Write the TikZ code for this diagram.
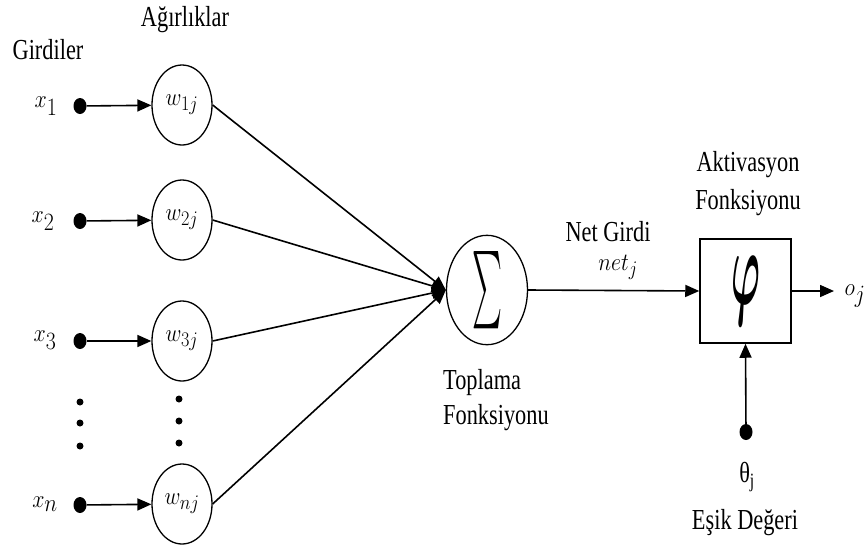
\documentclass[tikz,border=0pt]{standalone}
\usepackage{fontspec}
\setmainfont{Liberation Serif}
\usetikzlibrary{shapes.geometric,arrows.meta}
\newcommand\sq[1]{\scalebox{0.77}[1]{#1}}
\newcommand\mq[1]{\scalebox{0.88}[1]{#1}}
\begin{document}
\begin{tikzpicture}[x=1pt,y=-1pt,
  lbl/.style={inner sep=0pt, font=\fontsize{29}{34}\selectfont},
  mlbl/.style={inner sep=0pt, font=\fontsize{33}{38}\selectfont},
  wlbl/.style={inner sep=0pt, font=\fontsize{29}{34}\selectfont},
  wnode/.style={ellipse, draw, line width=1.3pt, minimum width=60pt, minimum height=80pt, inner sep=0pt, font=\fontsize{29}{34}\selectfont},
  dotin/.style={ellipse, fill, minimum width=13pt, minimum height=16pt, inner sep=0pt},
  sdot/.style={circle, fill, minimum size=7pt, inner sep=0pt},
  conn/.style={line width=1.6pt, -{Triangle[length=14pt,width=12pt]}},
]
\useasboundingbox (0,0) rectangle (868,544);

% titles
\node[lbl] (girdiler) at (48,50) {\sq{Girdiler}};
\node[lbl] (agirlik) at (185,20) {\sq{Ağırlıklar}};

% inputs
\node[mlbl] (lx1) at (46,106) {\mq{$x_1$}};
\node[mlbl] (lx2) at (43,221) {\mq{$x_2$}};
\node[mlbl] (lx3) at (45,340) {\mq{$x_3$}};
\node[mlbl] (lxn) at (45,504) {\mq{$x_n$}};

\node[dotin] (d1) at (80,106) {};
\node[dotin] (d2) at (80,221) {};
\node[dotin] (d3) at (80,341) {};
\node[dotin] (dn) at (80,505) {};

% weights
\node[wnode] (w1) at (182,105) {\mq{$w_{1j}$}};
\node[wnode] (w2) at (182,220) {\mq{$w_{2j}$}};
\node[wnode] (w3) at (182,341) {\mq{$w_{3j}$}};
\node[wnode] (wn) at (182,504) {\mq{$w_{nj}$}};

% vertical ellipses
\node[sdot] (va1) at (80,402) {};
\node[sdot] (va2) at (80,423) {};
\node[sdot] (va3) at (80,446) {};
\node[sdot] (vb1) at (179,399) {};
\node[sdot] (vb2) at (179,421) {};
\node[sdot] (vb3) at (179,443) {};

\draw[conn] (d1) -- (w1);
\draw[conn] (d2) -- (w2);
\draw[conn] (d3) -- (w3);
\draw[conn] (dn) -- (wn);

% summation
\node[ellipse, draw, line width=1.3pt, minimum width=81pt, minimum height=103pt, inner sep=0pt] (sum) at (487,290) {\resizebox{30pt}{58pt}{$\sum$}};

\draw[conn] (w1.east) -- (sum.west);
\draw[conn] (w2.east) -- (sum.west);
\draw[conn] (w3.east) -- (sum.west);
\draw[conn] (wn.east) -- (sum.west);

\node[lbl, anchor=west] (topl) at (443,383) {\sq{Toplama}};
\node[lbl, anchor=west] (fonk1) at (443,418) {\sq{Fonksiyonu}};

% activation
\node[draw, line width=1.5pt, minimum width=91pt, minimum height=104pt, inner sep=0pt] (box) at (745.5,291) {\resizebox{29pt}{48pt}{\boldmath$\varphi$}};
\node[lbl] (akt) at (748,165) {\sq{Aktivasyon}};
\node[lbl] (fonk2) at (748,203) {\sq{Fonksiyonu}};

\draw[conn] (sum.east) -- (box.west);
\node[lbl] (netg) at (608,232) {\sq{Net Girdi}};
\node[wlbl] (netj) at (618,267) {\mq{$net_j$}};

\coordinate (out) at (834,291);
\draw[conn] (box.east) -- (out);
\node[mlbl] (oj) at (855,296) {\mq{$o_j$}};

% threshold
\node[dotin] (th) at (746,432) {};
\draw[conn] (th) -- (box.south);
\node[lbl] (theta) at (747,477) {\sq{θ$_{\mathrm{j}}$}};
\node[lbl] (esik) at (745,523) {\sq{Eşik Değeri}};
\end{tikzpicture}
\end{document}
